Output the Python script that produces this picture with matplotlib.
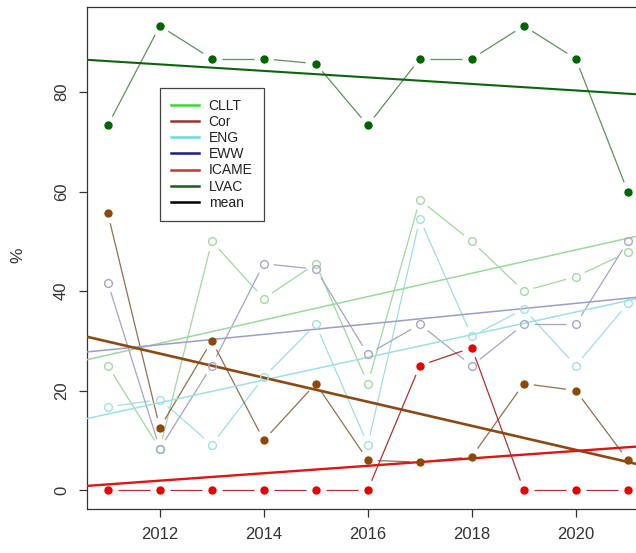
import numpy as np
import matplotlib
matplotlib.use("Agg")
import matplotlib.pyplot as plt
from matplotlib.lines import Line2D

plt.rcParams["font.family"] = ["Liberation Sans", "DejaVu Sans"]

# ---- data (values in %) ----
years = [2011, 2012, 2013, 2014, 2015, 2016, 2017, 2018, 2019, 2020, 2021]
cllt  = [25.0, 8.3, 50.0, 38.5, 45.5, 21.4, 58.3, 50.0, 40.0, 42.9, 47.8]
cor   = [55.6, 12.5, 30.0, 10.0, 21.4, 6.0, 5.6, 6.7, 21.4, 20.0, 6.0]
eng   = [16.7, 18.2, 9.1, 22.7, 33.3, 9.1, 54.5, 30.9, 36.4, 25.0, 37.5]
eww   = [41.7, 8.3, 25.0, 45.5, 44.4, 27.3, 33.3, 25.0, 33.3, 33.3, 50.0]
icame = [0.0, 0.0, 0.0, 0.0, 0.0, 0.0, 25.0, 28.6, 0.0, 0.0, 0.0]
lvac  = [73.3, 93.3, 86.7, 86.7, 85.7, 73.3, 86.7, 86.7, 93.3, 86.7, 60.0]

legend_labels = ["CLLT", "Cor", "ENG", "EWW", "ICAME", "LVAC", "mean"]
legend_colors = ["#33dd33", "#993333", "#66dddd", "#1a1a8c",
                 "#cc3333", "#1a5e1a", "#000000"]

# series style: (values, point colour, filled?, connector colour, trend colour, trend lw)
SERIES = [
    (cllt,  "#a3d9a3", False, "#9fd89f", "#99d999", 1.1),
    (eng,   "#a3e0e0", False, "#a0dede", "#9ee0e0", 1.1),
    (eww,   "#a6a6cc", False, "#a3a3c8", "#9c9cc8", 1.1),
    (lvac,  "#006400", True,  "#5f8f5f", "#0b650b", 1.5),
    (cor,   "#8b4a0a", True,  "#8f7050", "#8b4a12", 1.9),
    (icame, "#e80000", True,  "#b03030", "#dd1515", 1.7),
]

XLIM = (2010.6, 2021.4)
YLIM = (-3.73, 97.06)
GAP_PX = 10


def draw_type_b(ax, x, y, color):
    """Lines with gaps around the points, like R's type='b'."""
    tr = ax.transData
    pts = tr.transform(np.column_stack([x, y]))
    inv = tr.inverted()
    for p0, p1 in zip(pts[:-1], pts[1:]):
        d = p1 - p0
        L = np.hypot(*d)
        if L <= 2 * GAP_PX:
            continue
        u = d / L
        a = inv.transform(p0 + u * GAP_PX)
        b = inv.transform(p1 - u * GAP_PX)
        ax.plot([a[0], b[0]], [a[1], b[1]], color=color, lw=0.9,
                solid_capstyle="butt", zorder=2)


def main():
    fig = plt.figure(figsize=(6.36, 5.53), dpi=100)
    ax = fig.add_axes([87 / 636, 1 - 508.6 / 553, 561.6 / 636, 501.4 / 553])
    ax.set_xlim(*XLIM)
    ax.set_ylim(*YLIM)

    x = np.array(years, dtype=float)
    xx = np.array(XLIM)
    for vals, pcol, filled, lcol, tcol, tlw in SERIES:
        y = np.array(vals)
        draw_type_b(ax, x, y, lcol)
        if filled:
            ax.plot(x, y, "o", ms=5.0, color=pcol, mec=pcol, zorder=4)
        else:
            ax.plot(x, y, "o", ms=5.6, mfc="none", mec=pcol, mew=1.0, zorder=4)
        k, c = np.polyfit(x, y, 1)
        ax.plot(xx, k * xx + c, color=tcol, lw=tlw, zorder=3)

    ax.set_xticks([2012, 2014, 2016, 2018, 2020])
    ax.set_yticks([0, 20, 40, 60, 80])
    ax.tick_params(length=6, width=0.9, color="#333333", labelsize=12,
                   labelcolor="#333333", pad=7)
    for lab in ax.get_yticklabels():
        lab.set_rotation(90)
        lab.set_va("center")
    for s in ax.spines.values():
        s.set_color("#333333")
        s.set_linewidth(0.9)
    fig.text(18 / 636, 1 - 255 / 553, "%", rotation=90, fontsize=12.5,
             color="#333333", ha="center", va="center")

    handles = [Line2D([], [], color=c, lw=1.8) for c in legend_colors]
    leg = ax.legend(handles, legend_labels, loc="upper left",
                    bbox_to_anchor=(160 / 636, 1 - 88 / 553),
                    bbox_transform=fig.transFigure, borderaxespad=0,
                    fontsize=10, handlelength=2.0, handletextpad=0.7,
                    labelspacing=0.15, borderpad=0.8, fancybox=False,
                    framealpha=1)
    leg.get_frame().set_edgecolor("#444444")
    leg.get_frame().set_linewidth(0.9)
    for t in leg.get_texts():
        t.set_color("#222222")

    fig.savefig("out.png", dpi=100)
    plt.close(fig)


if __name__ == "__main__":
    main()
